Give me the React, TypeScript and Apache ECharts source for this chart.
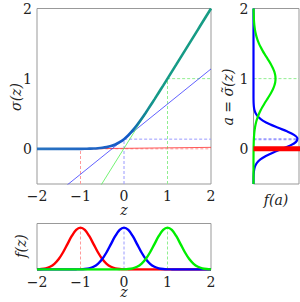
import React, { useEffect, useRef } from "react";
import * as echarts from "echarts";

// ---- data ----
const zGrid = [-2.0, -1.9, -1.8, -1.7, -1.6, -1.5, -1.4, -1.3, -1.2, -1.1, -1.0, -0.9, -0.8, -0.7, -0.6, -0.5, -0.4, -0.3, -0.2, -0.1, 0.0, 0.1, 0.2, 0.3, 0.4, 0.5, 0.6, 0.7, 0.8, 0.9, 1.0, 1.1, 1.2, 1.3, 1.4, 1.5, 1.6, 1.7, 1.8, 1.9, 2.0];
const sigmaZ = [0, 0, 0, 0, 0, 0, 0, 0, 0.001, 0.001, 0.001, 0.002, 0.004, 0.006, 0.010, 0.016, 0.025, 0.040, 0.063, 0.095, 0.139, 0.195, 0.263, 0.340, 0.425, 0.516, 0.610, 0.706, 0.804, 0.902, 1.001, 1.101, 1.200, 1.300, 1.400, 1.500, 1.600, 1.700, 1.800, 1.900, 2.000];
const fzRed = [0.005, 0.015, 0.038, 0.087, 0.180, 0.332, 0.547, 0.807, 1.065, 1.258, 1.330, 1.258, 1.065, 0.807, 0.547, 0.332, 0.180, 0.087, 0.038, 0.015, 0.005, 0.002, 0, 0, 0, 0, 0, 0, 0, 0, 0, 0, 0, 0, 0, 0, 0, 0, 0, 0, 0];
const fzBlue = [0, 0, 0, 0, 0, 0, 0, 0, 0, 0.002, 0.005, 0.015, 0.038, 0.087, 0.180, 0.332, 0.547, 0.807, 1.065, 1.258, 1.330, 1.258, 1.065, 0.807, 0.547, 0.332, 0.180, 0.087, 0.038, 0.015, 0.005, 0.002, 0, 0, 0, 0, 0, 0, 0, 0, 0];
const fzGreen = [0, 0, 0, 0, 0, 0, 0, 0, 0, 0, 0, 0, 0, 0, 0, 0, 0, 0, 0, 0.002, 0.005, 0.015, 0.038, 0.087, 0.180, 0.332, 0.547, 0.807, 1.065, 1.258, 1.330, 1.258, 1.065, 0.807, 0.547, 0.332, 0.180, 0.087, 0.038, 0.015, 0.005];

const aGrid = [-0.5, -0.45, -0.4, -0.35, -0.3, -0.25, -0.2, -0.15, -0.1, -0.05, 0.0, 0.05, 0.1, 0.15, 0.2, 0.25, 0.3, 0.35, 0.4, 0.45, 0.5, 0.55, 0.6, 0.65, 0.7, 0.75, 0.8, 0.85, 0.9, 0.95, 1.0, 1.05, 1.1, 1.15, 1.2, 1.25, 1.3, 1.35, 1.4, 1.45, 1.5, 1.55, 1.6, 1.65, 1.7, 1.75, 1.8, 1.85, 1.9, 1.95, 2.0];
const faBlue = [0, 0.001, 0.004, 0.013, 0.037, 0.092, 0.207, 0.416, 0.748, 1.203, 1.731, 2.231, 2.572, 2.653, 2.449, 2.023, 1.495, 0.989, 0.585, 0.310, 0.147, 0.062, 0.024, 0.008, 0.002, 0, 0, 0, 0, 0, 0, 0, 0, 0, 0, 0, 0, 0, 0, 0, 0, 0, 0, 0, 0, 0, 0, 0, 0, 0, 0];
const faGreen = [0, 0, 0, 0, 0, 0, 0, 0, 0.002, 0.003, 0.005, 0.009, 0.015, 0.024, 0.038, 0.058, 0.087, 0.127, 0.180, 0.248, 0.332, 0.432, 0.547, 0.673, 0.807, 0.940, 1.065, 1.174, 1.258, 1.312, 1.330, 1.312, 1.258, 1.174, 1.065, 0.940, 0.807, 0.673, 0.547, 0.432, 0.332, 0.248, 0.180, 0.127, 0.087, 0.058, 0.038, 0.024, 0.015, 0.009, 0.005];
const spikeA = [-0.006, 0.0013, 0.009];
const spikeF = [0, 200, 0];

const zMeans = [-1, 0, 1];
const aMeans = [0.001, 0.139, 1.001];
const slopes = [0.007, 0.5, 0.993];
const peakF = 1.33;

const xTicks = [-2, -1, 0, 1, 2];
const yTicks = [0, 1, 2];

// ---- styles ----
const FONT = "DejaVu Serif";
const strong = ["#ff0000", "#0000ff", "#00ee00"];
const thin = ["#ff3030", "#3a3aff", "#50f050"];
const light = ["#ff9a9a", "#9a9aff", "#90ee90"];

const pair = (xs: number[], ys: number[]) => xs.map((x, i) => [x, ys[i]]);
const fmt = (v: number) => String(v).replace("-", "\u2212");

export default function App() {
  const ref = useRef<HTMLDivElement>(null);
  useEffect(() => {
    const chart = echarts.init(ref.current!, undefined, { renderer: "svg" });
    const labelStyle = { fontFamily: FONT, fontSize: 14, color: "#222" };
    const hidden = { show: false };
    const noLine = { show: false, onZero: false };
    const series: any[] = [];
    const base = { type: "line", symbol: "none", silent: true, animation: false };

    zMeans.forEach((m, i) => {
      series.push({
        ...base, xAxisIndex: 0, yAxisIndex: 0,
        data: [[m, -0.5], [m, aMeans[i]], [2, aMeans[i]]],
        lineStyle: { color: light[i], width: 1, type: [3, 2] },
      });
    });
    zMeans.forEach((m, i) => {
      series.push({
        ...base, xAxisIndex: 0, yAxisIndex: 0,
        data: [-2, 2].map((z) => [z, aMeans[i] + slopes[i] * (z - m)]),
        lineStyle: { color: thin[i], width: 0.8 },
      });
    });
    series.push({
      ...base, xAxisIndex: 0, yAxisIndex: 0, smooth: 0.3,
      data: pair(zGrid, sigmaZ),
      lineStyle: {
        width: 2.6,
        color: new echarts.graphic.LinearGradient(0, 0, 1, 0, [
          { offset: 0, color: "#2a74c0" },
          { offset: 0.45, color: "#1a5ec6" },
          { offset: 0.52, color: "#1058c8" },
          { offset: 0.6, color: "#12809c" },
          { offset: 0.68, color: "#159a88" },
          { offset: 1, color: "#179c84" },
        ]),
      },
    });

    zMeans.forEach((m, i) => {
      series.push({
        ...base, xAxisIndex: 1, yAxisIndex: 1,
        data: [[m, 0], [m, peakF]],
        lineStyle: { color: light[i], width: 1, type: [3, 2] },
      });
    });
    [fzRed, fzBlue, fzGreen].forEach((f, i) => {
      series.push({
        ...base, xAxisIndex: 1, yAxisIndex: 1, smooth: 0.3,
        data: pair(zGrid, f),
        lineStyle: { color: strong[i], width: 2.4 },
      });
    });

    [1, 2].forEach((i) => {
      series.push({
        ...base, xAxisIndex: 2, yAxisIndex: 2,
        data: [[0, aMeans[i]], [2.75, aMeans[i]]],
        lineStyle: { color: light[i], width: i === 1 ? 2 : 1, type: [3, 2] },
      });
    });
    series.push({
      ...base, xAxisIndex: 2, yAxisIndex: 2, smooth: 0.3,
      data: pair(faBlue, aGrid),
      lineStyle: { color: strong[1], width: 2.2 },
    });
    series.push({
      ...base, xAxisIndex: 2, yAxisIndex: 2, smooth: 0.3,
      data: pair(faGreen, aGrid),
      lineStyle: { color: strong[2], width: 2.2 },
    });
    series.push({
      ...base, xAxisIndex: 2, yAxisIndex: 2,
      data: pair(spikeF, spikeA),
      lineStyle: { color: strong[0], width: 4 },
    });

    const gridBase = { show: true, borderColor: "#999", borderWidth: 1, containLabel: false, outerBoundsMode: "none" };
    const nameText = (text: string, x: number, y: number, vertical: boolean) => ({
      type: "text", x, y, rotation: vertical ? Math.PI / 2 : 0, silent: true,
      style: { text, fontFamily: FONT, fontSize: 14, fontStyle: "italic", fill: "#222", align: "center", verticalAlign: "middle" },
    });

    chart.setOption({
      animation: false,
      grid: [
        { ...gridBase, left: 37, top: 8.5, width: 174, height: 175.5 },
        { ...gridBase, left: 37, top: 223.5, width: 174, height: 46 },
        { ...gridBase, left: 253.5, top: 8.5, width: 45.5, height: 175.5 },
      ],
      xAxis: [
        {
          type: "value", gridIndex: 0, min: -2, max: 2,
          axisLine: noLine, splitLine: hidden, axisTick: hidden,
          axisLabel: { ...labelStyle, customValues: xTicks, formatter: fmt, margin: 5 },
        },
        {
          type: "value", gridIndex: 1, min: -2, max: 2,
          axisLine: noLine, splitLine: hidden, axisTick: hidden,
          axisLabel: { ...labelStyle, customValues: xTicks, formatter: fmt, margin: 5 },
        },
        {
          type: "value", gridIndex: 2, min: 0, max: 2.75,
          axisLine: noLine, splitLine: hidden, axisTick: hidden, axisLabel: hidden,
        },
      ],
      yAxis: [
        {
          type: "value", gridIndex: 0, min: -0.5, max: 2,
          axisLine: noLine, splitLine: hidden, axisTick: hidden,
          axisLabel: { ...labelStyle, customValues: yTicks, formatter: fmt, margin: 5 },
        },
        {
          type: "value", gridIndex: 1, min: 0, max: 1.46,
          axisLine: noLine, splitLine: hidden, axisTick: hidden, axisLabel: hidden,
        },
        {
          type: "value", gridIndex: 2, min: -0.5, max: 2,
          axisLine: noLine, splitLine: hidden, axisTick: hidden,
          axisLabel: { ...labelStyle, customValues: yTicks, formatter: fmt, margin: 5 },
        },
      ],
      graphic: [
        nameText("σ(z)", 16, 97, true),
        nameText("z", 124, 210, false),
        nameText("f(z)", 21, 246, true),
        nameText("z", 124, 292, false),
        nameText("a = σ\u0303(z)", 228, 97, true),
        nameText("f(a)", 276, 200, false),
      ],
      series,
    });
    return () => chart.dispose();
  }, []);
  return <div ref={ref} style={{ position: "absolute", left: 0, top: 0, width: 300, height: 302 }} />;
}
